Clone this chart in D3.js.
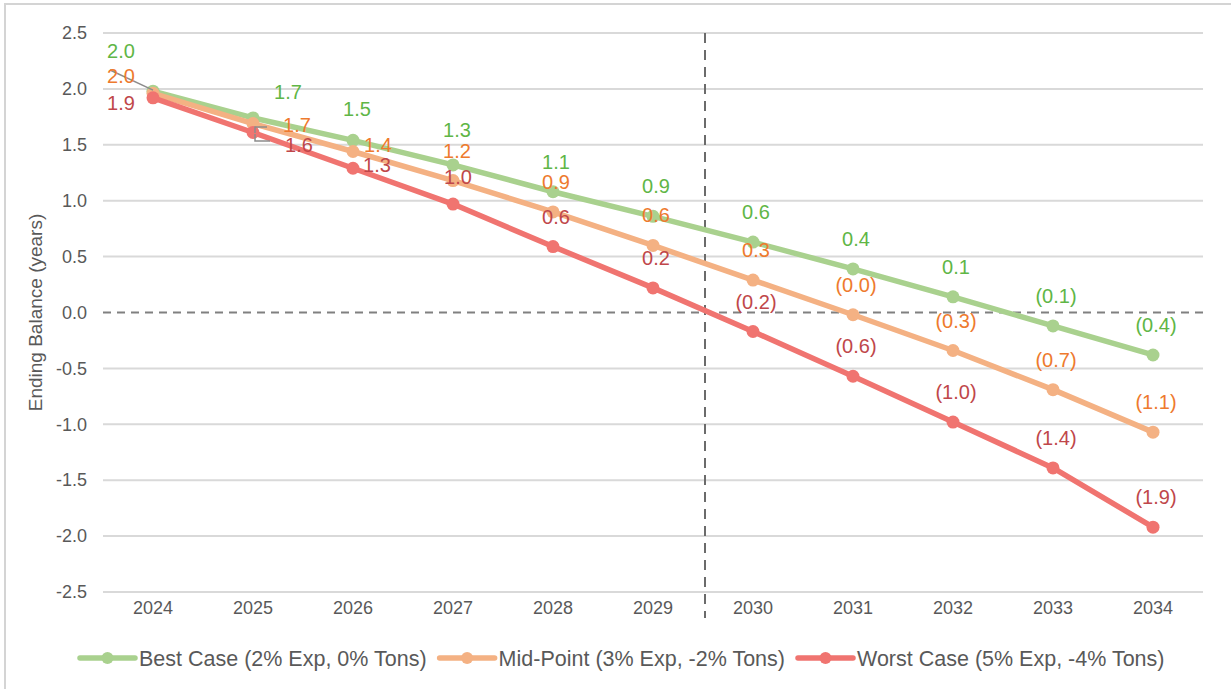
<!DOCTYPE html>
<html>
<head>
<meta charset="utf-8">
<script src="https://cdn.jsdelivr.net/npm/d3@7"></script>
<style>
  html, body { margin: 0; padding: 0; background: #ffffff; }
  svg { display: block; font-family: "Liberation Sans", Arial, sans-serif; }
</style>
</head>
<body>
<svg id="chart" width="1231" height="689"></svg>
<script>
// ---- data ----
const years = ["2024","2025","2026","2027","2028","2029","2030","2031","2032","2033","2034"];
const bestCase  = [1.98, 1.74, 1.54, 1.32, 1.08, 0.86, 0.63, 0.39, 0.14, -0.12, -0.38];
const midPoint  = [1.96, 1.69, 1.44, 1.18, 0.90, 0.60, 0.29, -0.02, -0.34, -0.69, -1.07];
const worstCase = [1.92, 1.61, 1.29, 0.97, 0.59, 0.22, -0.17, -0.57, -0.98, -1.39, -1.92];
const seriesNames = ["Best Case (2% Exp, 0% Tons)", "Mid-Point (3% Exp, -2% Tons)", "Worst Case (5% Exp, -4% Tons)"];
const yTicks = [2.5, 2.0, 1.5, 1.0, 0.5, 0.0, -0.5, -1.0, -1.5, -2.0, -2.5];
const yAxisTitle = "Ending Balance (years)";
const dividerBefore = "2030";

// ---- styles ----
const lineColors  = ["#A9D18E", "#F4B183", "#F07470"];
const labelColors = ["#5FB646", "#EE7A2E", "#C0474A"];
const textGray = "#595959";
// manual label nudges (dx, dy relative to default position above point)
const nudges = {
  "0-2024": [-35, -10], "1-2024": [-35, 13], "2-2024": [-35, 35],
  "0-2025": [32, 4],    "1-2025": [41, 31],  "2-2025": [43, 42],
  "0-2026": [1, -1],    "1-2026": [22, 23],  "2-2026": [21, 27],
  "0-2027": [1, -5],    "1-2027": [1, 0],    "2-2027": [2, 3]
};

const svg = d3.select("#chart");
const W = 1231, H = 689;

// outer frame
svg.append("rect").attr("x", 5).attr("y", 4).attr("width", W - 3).attr("height", H + 10)
  .attr("fill", "#ffffff").attr("stroke", "#d4d4d4").attr("stroke-width", 2);

const x = d3.scaleBand().domain(years).range([103, 1203]).padding(0);
const xc = d => x(d) + x.bandwidth() / 2;
const y = d3.scaleLinear().domain([-2.5, 2.5]).range([592, 33]);

// gridlines
svg.append("g").selectAll("line").data(yTicks.filter(t => t !== 0)).join("line")
  .attr("x1", 103).attr("x2", 1203)
  .attr("y1", d => y(d)).attr("y2", d => y(d))
  .attr("stroke", "#d9d9d9").attr("stroke-width", 2);

// zero dashed line
svg.append("line").attr("x1", 103).attr("x2", 1203).attr("y1", y(0)).attr("y2", y(0))
  .attr("stroke", "#808080").attr("stroke-width", 2).attr("stroke-dasharray", "8,6");

// vertical divider
svg.append("line").attr("x1", x(dividerBefore) + 2).attr("x2", x(dividerBefore) + 2)
  .attr("y1", y(2.5)).attr("y2", 618)
  .attr("stroke", "#6b6b6b").attr("stroke-width", 2).attr("stroke-dasharray", "10,7");

const numFmt = d => d3.format(".1f")(d).replace("\u2212", "-");

// y axis labels
const yAxis = d3.axisLeft(y).tickValues(yTicks).tickFormat(numFmt).tickSize(0).tickPadding(0);
const yg = svg.append("g").attr("transform", "translate(87,0)").call(yAxis);
yg.select(".domain").remove();
yg.selectAll("text").attr("fill", textGray).attr("font-size", 18).attr("font-family", "Liberation Sans, Arial, sans-serif");

// x axis labels
const xAxis = d3.axisBottom(x).tickSize(0).tickPadding(0);
const xg = svg.append("g").attr("transform", "translate(0,601)").call(xAxis);
xg.select(".domain").remove();
xg.selectAll("text").attr("fill", textGray).attr("font-size", 18).attr("font-family", "Liberation Sans, Arial, sans-serif");

// y title
svg.append("text").attr("transform", `translate(35,${y(0)}) rotate(-90)`)
  .attr("text-anchor", "middle").attr("dy", "0.35em").attr("fill", textGray).attr("font-size", 19)
  .text(yAxisTitle);

// series
const allSeries = [bestCase, midPoint, worstCase];
const line = d3.line().x((d, i) => xc(years[i])).y(d => y(d));

allSeries.forEach((vals, s) => {
  svg.append("path").datum(vals).attr("d", line)
    .attr("fill", "none").attr("stroke", lineColors[s]).attr("stroke-width", 5.5)
    .attr("stroke-linejoin", "round").attr("stroke-linecap", "round");
  svg.append("g").selectAll("circle").data(vals).join("circle")
    .attr("cx", (d, i) => xc(years[i])).attr("cy", d => y(d)).attr("r", 6.5)
    .attr("fill", lineColors[s]);
});

// leader lines
svg.append("line").attr("x1", 110).attr("y1", 70).attr("x2", xc("2024")).attr("y2", y(bestCase[0]) - 1)
  .attr("stroke", "#8c8c8c").attr("stroke-width", 1.5);
svg.append("polyline").attr("points", `${xc("2025")+14},127 ${xc("2025")+2},127 ${xc("2025")+2},133`)
  .attr("fill", "none").attr("stroke", "#8c8c8c").attr("stroke-width", 1.5);
svg.append("polyline").attr("points", `${xc("2025")+2},134 ${xc("2025")+2},141 ${xc("2025")+17},141`)
  .attr("fill", "none").attr("stroke", "#8c8c8c").attr("stroke-width", 1.5);

// data labels
const fmt = v => {
  const s = Math.abs(v).toFixed(1);
  return v < 0 ? `(${s})` : s;
};
allSeries.forEach((vals, s) => {
  svg.append("g").selectAll("text").data(vals).join("text")
    .attr("x", (d, i) => xc(years[i]) + 3 + ((nudges[`${s}-${years[i]}`] || [0, 0])[0]))
    .attr("y", (d, i) => y(d) - 30 + ((nudges[`${s}-${years[i]}`] || [0, 0])[1]))
    .attr("dy", "0.35em")
    .attr("text-anchor", "middle").attr("font-size", 20)
    .attr("fill", labelColors[s])
    .text(d => fmt(d));
});

// legend
const lg = svg.append("g");
let cx = 80;
const legendY = 658;
seriesNames.forEach((name, s) => {
  lg.append("line").attr("x1", cx).attr("x2", cx + 55).attr("y1", legendY).attr("y2", legendY)
    .attr("stroke", lineColors[s]).attr("stroke-width", 5.5).attr("stroke-linecap", "round");
  lg.append("circle").attr("cx", cx + 27.5).attr("cy", legendY).attr("r", 6).attr("fill", lineColors[s]);
  const t = lg.append("text").attr("x", cx + 59).attr("y", legendY).attr("dy", "0.35em")
    .attr("fill", textGray).attr("font-size", 21.5).text(name);
  cx = cx + 59 + t.node().getComputedTextLength() + 13;
});
</script>
</body>
</html>
